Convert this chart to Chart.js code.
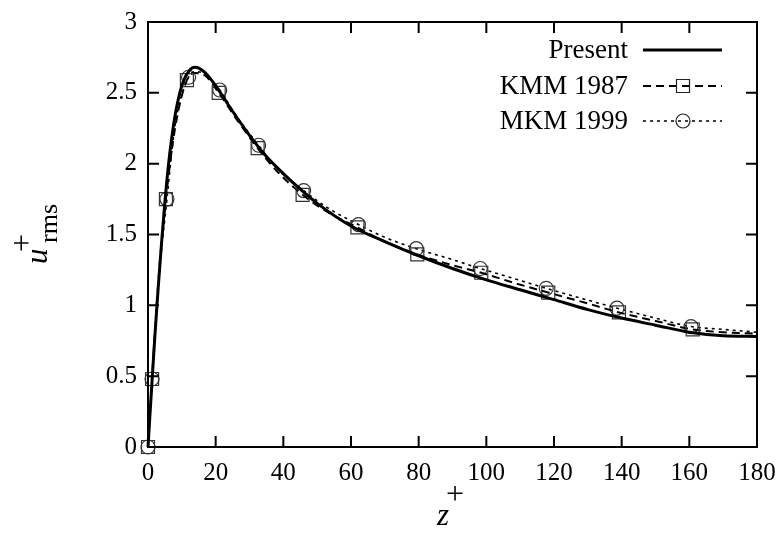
<!DOCTYPE html>
<html>
<head>
<meta charset="utf-8">
<script src="https://cdn.jsdelivr.net/npm/chart.js@4.4.1/dist/chart.umd.min.js"></script>
<style>html,body{margin:0;padding:0;background:#fff}</style>
</head>
<body>
<canvas id="chart" width="781" height="534" style="width:781px;height:534px"></canvas>
<script>
// values
const presentZ = [0, 1, 2, 3, 4, 5, 6, 7, 8, 9, 10, 11, 12, 13, 14, 15, 17, 20, 25, 30, 35, 40, 45, 50, 60, 70, 80, 90, 100, 110, 120, 130, 140, 150, 160, 170, 180];
const presentU = [0, 0.39, 0.77, 1.12, 1.44, 1.73, 1.98, 2.18, 2.34, 2.46, 2.55, 2.61, 2.65, 2.675, 2.68, 2.675, 2.64, 2.55, 2.37, 2.2, 2.05, 1.93, 1.82, 1.72, 1.56, 1.45, 1.35, 1.26, 1.18, 1.11, 1.04, 0.97, 0.91, 0.86, 0.81, 0.785, 0.78];

const kmmZ = [0, 1.2, 3, 5.3, 8, 11.5, 14, 17, 20.9, 26, 32.4, 38, 45.7, 53, 61.9, 70, 79.6, 89, 98.5, 108, 118.3, 129, 139.2, 150, 161, 170, 180];
const kmmU = [0, 0.48, 1.15, 1.75, 2.25, 2.59, 2.64, 2.62, 2.5, 2.32, 2.11, 1.95, 1.78, 1.66, 1.55, 1.45, 1.36, 1.29, 1.23, 1.16, 1.09, 1.02, 0.95, 0.89, 0.83, 0.81, 0.8];
const kmmMarks = [0, 1, 3, 5, 8, 10, 12, 14, 16, 18, 20, 22, 24];

const mkmZ = [0, 1.2, 3, 5.6, 8, 12, 14, 17, 21.2, 26, 32.7, 38, 46, 53, 62.2, 70, 79.3, 89, 98.2, 108, 117.7, 128, 138.6, 150, 160.5, 170, 180];
const mkmU = [0, 0.48, 1.13, 1.75, 2.27, 2.61, 2.65, 2.63, 2.52, 2.34, 2.13, 1.97, 1.81, 1.69, 1.57, 1.48, 1.4, 1.33, 1.26, 1.19, 1.12, 1.05, 0.98, 0.91, 0.85, 0.83, 0.81];
const mkmMarks = [0, 1, 3, 5, 8, 10, 12, 14, 16, 18, 20, 22, 24];

const legendLabels = ["Present", "KMM 1987", "MKM 1999"];

const serif = '"Liberation Serif", "DejaVu Serif", serif';

function pts(zs, us) {
  return zs.map((z, i) => ({ x: z, y: us[i] }));
}

// frame, inward ticks, legend and axis titles (gnuplot look)
const decor = {
  id: "decor",
  afterDraw(chart) {
    const { ctx, chartArea: a, scales } = chart;
    const tl = 11;
    ctx.save();
    ctx.strokeStyle = "#000";
    ctx.lineWidth = 2;
    ctx.strokeRect(a.left, a.top, a.right - a.left, a.bottom - a.top);
    ctx.beginPath();
    for (let v = 20; v < 180; v += 20) {
      const x = scales.x.getPixelForValue(v);
      ctx.moveTo(x, a.bottom); ctx.lineTo(x, a.bottom - tl);
      ctx.moveTo(x, a.top); ctx.lineTo(x, a.top + tl);
    }
    for (let v = 0.5; v < 3; v += 0.5) {
      const y = scales.y.getPixelForValue(v);
      ctx.moveTo(a.left, y); ctx.lineTo(a.left + tl, y);
      ctx.moveTo(a.right, y); ctx.lineTo(a.right - tl, y);
    }
    ctx.stroke();

    // legend
    const rows = [50, 86, 121];
    ctx.font = "27px " + serif;
    ctx.fillStyle = "#000";
    ctx.textAlign = "right";
    ctx.textBaseline = "middle";
    chart.data.datasets.forEach((ds, i) => {
      const y = rows[i];
      ctx.fillText(legendLabels[i], 628, y + 1);
      ctx.save();
      ctx.strokeStyle = "#000";
      ctx.lineWidth = ds.borderWidth;
      ctx.setLineDash(ds.borderDash || []);
      ctx.beginPath();
      ctx.moveTo(643, y); ctx.lineTo(722, y);
      ctx.stroke();
      ctx.restore();
      if (ds.pointStyle) {
        ctx.save();
        ctx.strokeStyle = "#222";
        ctx.lineWidth = 1.2;
        ctx.beginPath();
        if (ds.pointStyle === "rect") ctx.rect(683 - 6.5, y - 6.5, 13, 13);
        else ctx.arc(683, y, 7, 0, Math.PI * 2);
        ctx.stroke();
        ctx.restore();
      }
    });

    // x title: z^+
    ctx.textAlign = "left";
    ctx.textBaseline = "alphabetic";
    ctx.font = "italic 31px " + serif;
    ctx.fillText("z", 437, 525);
    ctx.font = "32px " + serif;
    ctx.fillText("+", 446, 504);

    // y title: u^+_rms
    ctx.translate(47, 264);
    ctx.rotate(-Math.PI / 2);
    ctx.font = "italic 31px " + serif;
    ctx.fillText("u", 0, 0);
    ctx.font = "32px " + serif;
    ctx.fillText("+", 12, -15);
    ctx.font = "26px " + serif;
    ctx.fillText("rms", 21, 10);
    ctx.restore();
  }
};

new Chart(document.getElementById("chart"), {
  type: "line",
  data: {
    datasets: [
      {
        label: legendLabels[0],
        data: pts(presentZ, presentU),
        borderColor: "#000",
        borderWidth: 3,
        pointRadius: 0,
        cubicInterpolationMode: "monotone",
        clip: false
      },
      {
        label: legendLabels[1],
        data: pts(kmmZ, kmmU),
        borderColor: "#000",
        borderWidth: 2,
        borderDash: [8, 5],
        pointStyle: "rect",
        pointRadius: (c) => (kmmMarks.includes(c.dataIndex) ? 9.2 : 0),
        pointBorderColor: "#333",
        pointBorderWidth: 1.2,
        pointBackgroundColor: "rgba(0,0,0,0)",
        cubicInterpolationMode: "monotone",
        clip: false
      },
      {
        label: legendLabels[2],
        data: pts(mkmZ, mkmU),
        borderColor: "#000",
        borderWidth: 1.6,
        borderDash: [3, 4],
        pointStyle: "circle",
        pointRadius: (c) => (mkmMarks.includes(c.dataIndex) ? 7 : 0),
        pointBorderColor: "#333",
        pointBorderWidth: 1.2,
        pointBackgroundColor: "rgba(0,0,0,0)",
        cubicInterpolationMode: "monotone",
        clip: false
      }
    ]
  },
  options: {
    responsive: false,
    animation: false,
    layout: { padding: { left: 0, top: 22, right: 24, bottom: 0 } },
    plugins: { legend: { display: false }, tooltip: { enabled: false } },
    scales: {
      x: {
        type: "linear",
        min: 0,
        max: 180,
        grid: { display: false, drawTicks: false },
        border: { display: false },
        ticks: { stepSize: 20, color: "#000", padding: 11, font: { family: serif, size: 25 } },
        afterFit: (s) => { s.height = 87; s.paddingLeft = 0; s.paddingRight = 0; }
      },
      y: {
        min: 0,
        max: 3,
        grid: { display: false, drawTicks: false },
        border: { display: false },
        ticks: {
          stepSize: 0.5,
          color: "#000",
          padding: 11,
          font: { family: serif, size: 25 },
          callback: (v) => String(+v.toFixed(1))
        },
        afterFit: (s) => { s.width = 148; s.paddingTop = 0; s.paddingBottom = 0; }
      }
    }
  },
  plugins: [decor]
});
</script>
</body>
</html>
